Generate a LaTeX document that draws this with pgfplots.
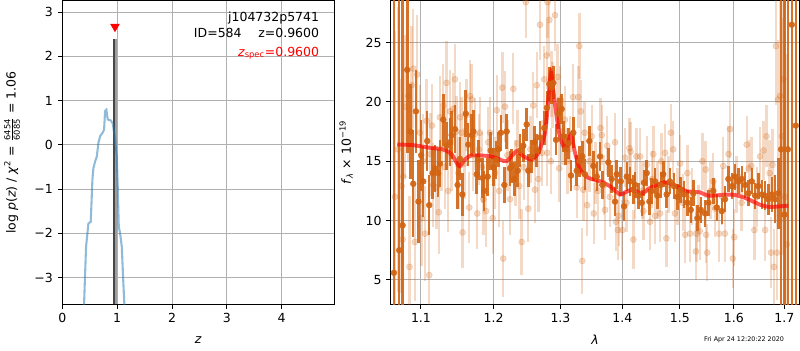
\documentclass[border=0pt]{standalone}
\usepackage{amsmath}
\usepackage{fontspec}
\setmainfont{DejaVu Sans}
\usepackage{pgfplots}
\pgfplotsset{compat=1.18}
\definecolor{darkor}{RGB}{210,100,18}
\definecolor{pzblue}{RGB}{31,119,180}
\definecolor{gridc}{RGB}{176,176,176}
\pgfplotsset{
  common/.style={
    scale only axis, anchor=south west,
    font=\fontsize{9}{10.8}\selectfont,
    grid=major, grid style={gridc, line width=0.7pt},
    axis line style={line width=0.7pt},
    tick style={black, line width=0.7pt},
    tick align=outside, major tick length=3.3pt,
    xtick pos=bottom, ytick pos=left,
    /pgf/number format/assume math mode=true,
    xlabel style={at={(axis description cs:0.5,-0.119)}, anchor=center},
  }
}
\begin{document}
\begin{tikzpicture}
\path[use as bounding box] (0,0) rectangle (576pt,252pt);
% ---------------- left panel ----------------
\begin{axis}[common,
  at={(44.9pt,33.1pt)}, width=195.8pt, height=218.2pt,
  xmin=0, xmax=4.96, ymin=-3.6, ymax=3.25,
  xtick={0,1,2,3,4}, xticklabels={0,1,2,3,4},
  ytick={-3,-2,-1,0,1,2,3}, yticklabels={−3,−2,−1,0,1,2,3},
  xlabel={\textit{z}},
  ylabel={log \textit{p}(\textit{z}) / \textit{χ}\textsuperscript{2} = $\frac{\text{6454}}{\text{6085}}$ = 1.06},
  ylabel style={at={(axis description cs:-0.185,0.5)}, anchor=center},
]
\addplot[black!72, line width=1.6pt] coordinates {(0.94,-3.6) (0.94,2.38)};
\addplot[black!38, line width=1.4pt] coordinates {(0.972,-3.6) (0.972,2.38)};
\addplot[pzblue, opacity=0.5, line width=1.5pt] coordinates {
(0.38,-4.2) (0.396,-3.59) (0.432,-2.31) (0.475,-1.78) (0.518,-1.74) (0.548,-0.79)
(0.566,-0.53) (0.597,-0.38) (0.628,-0.27) (0.657,0.04) (0.688,0.19) (0.737,0.28)
(0.761,0.34) (0.779,0.76) (0.803,0.79) (0.828,0.57) (0.883,0.55) (0.92,0.48)
(0.962,0.11) (0.993,-0.27) (1.01,-0.95) (1.029,-1.85) (1.053,-2.0) (1.084,-2.31)
(1.113,-3.14) (1.13,-3.59) (1.15,-4.2)};
\addplot[only marks, mark=triangle*, mark size=3.6pt,
  mark options={rotate=180, fill=red, draw=red}] coordinates {(0.96,2.67)};
\node[anchor=base east, inner sep=0pt, font=\fontsize{9}{10.8}\selectfont] at (rel axis cs:0.945,0.931) {j104732p5741};
\node[anchor=base east, inner sep=0pt, font=\fontsize{9}{10.8}\selectfont] at (rel axis cs:0.945,0.881) {ID=584\hspace{12pt}z=0.9600};
\node[anchor=base east, inner sep=0pt, red, font=\fontsize{9}{10.8}\selectfont] at (rel axis cs:0.945,0.818) {\textit{z}\textsubscript{spec}=0.9600};
\end{axis}
% ---------------- right panel ----------------
\begin{axis}[common,
  at={(281.5pt,33.1pt)}, width=293.8pt, height=218.2pt,
  xmode=log, xmin=1.0612, xmax=1.730, ymin=2.97, ymax=28.5,
  xtick={1.1,1.2,1.3,1.4,1.5,1.6,1.7}, xticklabels={1.1,1.2,1.3,1.4,1.5,1.6,1.7},
  minor xtick={},
  ytick={5,10,15,20,25}, yticklabels={5,10,15,20,25},
  xlabel={\textit{λ}},
  ylabel={\textit{f}\textsubscript{\textit{λ}} × 10\textsuperscript{−19}},
  ylabel style={at={(axis description cs:-0.11,0.5)}, anchor=center},
]
% light (full resolution) points
\addplot[only marks, mark=*, mark size=2.2pt, darkor, opacity=0.24,
  mark options={draw=none, fill=darkor},
  error bars/.cd, y dir=both, y explicit, error mark=none,
  error bar style={line width=1.7pt, darkor}]
table[x=x, y=y, y error=e] {
x y e
1.0663 12.0 14
1.0700 16.0 12
1.0749 12.9 9
1.0761 8.4 8
1.0770 13.7 7
1.0792 19.6 6
1.0834 20.5 5.5
1.0850 6.1 6
1.0878 21.4 5
1.0899 22.8 5
1.0920 8.2 5
1.0951 22.3 5
1.0987 17.4 4
1.1009 10.2 4
1.1030 15.0 4
1.1053 8.9 4
1.1075 18.4 3.5
1.1110 5.4 4
1.1128 15.6 3.5
1.1145 18.0 3.5
1.1162 13.0 3.5
1.1208 12.8 3.5
1.1238 10.7 3.5
1.1252 18.7 3.5
1.1275 16.0 3.5
1.1298 19.7 3.5
1.1320 14.5 3.5
1.1343 21.6 3.5
1.1365 12.5 3.5
1.1388 19.2 3.5
1.1410 15.5 3
1.1433 19.4 3
1.1457 21.9 3
1.1480 17.5 3
1.1505 14.0 3
1.1526 18.7 3
1.1549 17.4 3
1.1563 9.0 3
1.1590 14.8 3
1.1618 18.9 3
1.1655 11.1 3
1.1665 20.5 3
1.1689 20.2 3
1.1710 15.5 3
1.1735 17.3 3
1.1767 10.6 3
1.1790 16.0 3
1.1805 17.4 3
1.1830 14.5 3
1.1853 11.8 3
1.1891 10.8 3
1.1924 16.6 3
1.1948 17.4 3
1.1987 10.2 3
1.2021 14.0 3
1.2045 19.3 3
1.2080 12.5 3
1.2126 21.2 3
1.2140 6.8 3.2
1.2165 19.6 3
1.2200 15.5 3
1.2238 11.8 3
1.2286 21.1 3
1.2320 14.0 2.8
1.2350 16.5 2.8
1.2375 12.9 2.8
1.2410 8.2 2.8
1.2440 14.5 2.8
1.2472 28.4 3
1.2509 11.0 2.8
1.2540 16.0 2.8
1.2584 19.7 2.8
1.2610 12.6 2.8
1.2636 21.4 2.8
1.2660 13.5 2.8
1.2686 26.5 3
1.2712 15.7 2.8
1.2751 21.9 2.8
1.2788 23.9 2.8
1.2795 15.7 2.8
1.2800 28.4 3
1.2828 26.9 3
1.2852 15.0 2.8
1.2862 21.5 2.8
1.2876 20.6 2.8
1.2916 27.3 3
1.2956 22.1 2.8
1.2981 14.4 2.8
1.2995 20.2 2.8
1.3030 17.5 2.8
1.3070 18.5 2.8
1.3110 15.0 2.8
1.3150 16.0 2.8
1.3198 20.4 2.8
1.3256 12.8 2.6
1.3282 20.4 2.6
1.3297 24.7 2.8
1.3321 19.2 2.6
1.3345 6.6 2.8
1.3361 12.6 2.6
1.3381 17.4 2.6
1.3421 11.3 2.6
1.3460 15.0 2.6
1.3496 17.1 2.6
1.3530 10.6 2.6
1.3560 14.0 2.6
1.3600 12.5 2.5
1.3640 17.8 2.5
1.3660 17.2 2.5
1.3700 13.0 2.5
1.3714 10.9 2.5
1.3750 16.3 2.5
1.3790 12.0 2.5
1.3879 16.6 2.5
1.3895 9.9 2.5
1.3925 9.2 2.5
1.3940 10.4 2.5
1.4000 9.2 2.5
1.4046 15.3 2.5
1.4070 11.5 2.5
1.4120 16.1 2.5
1.4140 15.8 2.5
1.4186 8.4 2.5
1.4215 12.5 2.4
1.4240 15.4 2.4
1.4301 15.4 2.4
1.4340 12.5 2.4
1.4358 10.8 2.4
1.4416 14.7 2.4
1.4473 9.9 2.4
1.4510 13.5 2.4
1.4530 15.6 2.4
1.4561 10.4 2.4
1.4600 12.5 2.4
1.4647 10.6 2.4
1.4670 15.0 2.4
1.4735 15.7 2.4
1.4760 8.5 2.4
1.4800 13.0 2.4
1.4840 17.4 2.4
1.4880 16.0 2.4
1.4913 10.6 2.4
1.4960 12.0 2.4
1.5003 14.8 2.4
1.5050 11.5 2.4
1.5093 8.8 2.4
1.5135 14.0 2.4
1.5184 8.9 2.4
1.5220 12.0 2.4
1.5290 7.4 2.4
1.5300 8.9 2.4
1.5336 10.6 2.4
1.5360 9.1 2.4
1.5410 15.0 2.4
1.5470 14.3 2.4
1.5480 8.8 2.4
1.5500 7.3 2.4
1.5560 12.5 2.4
1.5613 13.3 2.4
1.5650 11.0 2.4
1.5720 8.9 2.4
1.5780 12.0 2.4
1.5800 14.6 2.4
1.5830 8.9 2.4
1.5900 15.6 2.4
1.5930 17.7 2.4
1.5980 6.8 2.5
1.6010 8.6 2.4
1.6050 13.0 2.4
1.6150 11.5 2.4
1.6250 16.4 2.4
1.6290 14.4 2.4
1.6340 14.6 2.4
1.6400 9.2 2.5
1.6450 12.0 2.5
1.6512 15.4 2.5
1.6580 15.9 2.5
1.6612 9.2 2.6
1.6640 17.1 2.6
1.6700 14.0 2.8
1.6730 7.3 3
1.6760 14.7 3
1.6790 6.1 3.2
1.6830 24.7 5
1.6850 7.3 4
1.6870 20.2 5
1.6912 20.5 8
1.6950 17.1 10
1.6980 21.9 12
1.7010 12.0 14
1.7050 8.0 16
};
% dark (binned) points
\addplot[only marks, mark=*, mark size=2.1pt, darkor, opacity=0.9,
  mark options={draw=none, fill=darkor},
  error bars/.cd, y dir=both, y explicit, error mark=none,
  error bar style={line width=1.8pt, darkor}]
table[x=x, y=y, y error=e] {
x y e
1.0650 5.6 30
1.0717 7.5 30
1.0761 9.6 30
1.0821 22.7 7
1.0860 17.5 4
1.0899 13.1 4.5
1.0934 19.2 3.5
1.0968 11.6 3.5
1.1003 15.5 3
1.1030 13.3 3
1.1083 16.7 2.5
1.1110 11.3 2.5
1.1155 14.0 2.2
1.1186 14.4 2
1.1228 14.0 2
1.1253 14.8 2
1.1298 18.5 2.2
1.1344 16.3 2
1.1389 16.6 2
1.1412 17.2 2
1.1457 17.7 2
1.1494 13.0 2
1.1526 15.2 1.8
1.1558 12.2 1.8
1.1606 19.0 2
1.1641 16.4 1.8
1.1689 17.2 1.8
1.1712 17.5 1.8
1.1759 13.9 1.7
1.1782 15.1 1.7
1.1844 13.6 1.7
1.1866 12.5 1.7
1.1915 13.7 1.6
1.1958 15.9 1.6
1.2000 14.5 1.6
1.2035 15.1 1.6
1.2067 16.0 1.5
1.2106 17.4 1.5
1.2155 13.0 1.5
1.2189 17.5 1.5
1.2238 14.4 1.5
1.2263 14.6 1.4
1.2301 13.5 1.4
1.2351 14.2 1.4
1.2385 15.9 1.4
1.2434 16.3 1.4
1.2485 18.1 1.4
1.2509 14.2 1.4
1.2560 15.4 1.4
1.2599 16.6 1.4
1.2636 15.9 1.4
1.2686 17.0 1.4
1.2751 17.8 1.4
1.2790 19.5 1.4
1.2828 21.5 1.4
1.2865 21.2 1.4
1.2890 21.6 1.4
1.2932 16.8 1.3
1.2970 19.0 1.3
1.3020 19.4 1.3
1.3045 17.1 1.3
1.3082 16.0 1.3
1.3125 16.5 1.3
1.3166 13.8 1.3
1.3202 17.4 1.3
1.3256 14.2 1.3
1.3300 15.0 1.3
1.3345 15.4 1.3
1.3388 13.9 1.3
1.3458 16.7 1.3
1.3522 14.6 1.3
1.3578 13.7 1.2
1.3631 15.4 1.2
1.3669 13.0 1.2
1.3768 14.9 1.2
1.3824 13.5 1.2
1.3878 11.6 1.2
1.3907 13.9 1.2
1.3974 13.3 1.2
1.4029 11.2 1.2
1.4075 13.7 1.2
1.4130 13.3 1.2
1.4186 12.6 1.2
1.4215 13.0 1.1
1.4272 12.1 1.1
1.4330 11.5 1.1
1.4369 13.2 1.1
1.4416 14.0 1.1
1.4461 11.6 1.1
1.4502 12.5 1.1
1.4561 13.3 1.1
1.4600 12.1 1.1
1.4660 13.0 1.1
1.4705 13.9 1.1
1.4765 12.2 1.1
1.4824 13.3 1.1
1.4895 12.9 1.1
1.4955 12.0 1.1
1.5015 12.6 1.1
1.5075 12.2 1.1
1.5135 11.5 1.1
1.5196 10.9 1.1
1.5244 12.3 1.1
1.5317 10.2 1.1
1.5380 10.9 1.1
1.5459 10.6 1.1
1.5520 11.5 1.1
1.5613 12.5 1.1
1.5677 11.1 1.1
1.5771 10.8 1.1
1.5833 11.8 1.1
1.5897 13.5 1.1
1.5962 12.9 1.1
1.6025 13.7 1.1
1.6089 13.3 1.1
1.6155 13.5 1.1
1.6218 13.0 1.1
1.6283 12.3 1.1
1.6349 13.3 1.1
1.6414 12.1 1.1
1.6478 12.9 1.1
1.6545 12.2 1.2
1.6612 12.1 1.2
1.6677 11.8 1.3
1.6746 12.2 1.5
1.6813 11.8 2
1.6878 12.3 3
1.6933 16.0 14
1.7000 10.5 30
1.7070 16.0 30
1.7152 26.5 30
1.7235 18.0 30
};
% model
\addplot[red, opacity=0.65, line width=2.8pt, smooth, tension=0.4] coordinates {
(1.0692,16.41) (1.0900,16.35) (1.1119,16.13) (1.1298,15.99) (1.1412,15.57)
(1.1517,14.58) (1.1595,15.14) (1.1689,15.50) (1.1948,15.42) (1.2093,15.14)
(1.2189,15.00) (1.2336,15.85) (1.2434,15.42) (1.2560,15.14) (1.2660,15.71)
(1.2762,17.40) (1.2813,20.20) (1.2854,22.47) (1.2906,20.20) (1.2978,17.40)
(1.3045,16.27) (1.3099,16.27) (1.3166,17.25) (1.3229,15.71) (1.3309,14.30)
(1.3442,13.60) (1.3631,13.31) (1.3796,12.89) (1.3961,12.19) (1.4046,12.38)
(1.4186,12.61) (1.4330,12.27) (1.4473,12.75) (1.4735,13.23) (1.4944,12.89)
(1.5124,12.47) (1.5367,12.38) (1.5520,12.10) (1.5962,12.19) (1.6218,11.91)
(1.6511,11.34) (1.6710,11.15) (1.7082,11.26)};
\end{axis}
\node[anchor=east, font=\fontsize{4.6}{5.5}\selectfont] at (568pt,7.2pt) {Fri Apr 24 12:20:22 2020};
\end{tikzpicture}
\end{document}
